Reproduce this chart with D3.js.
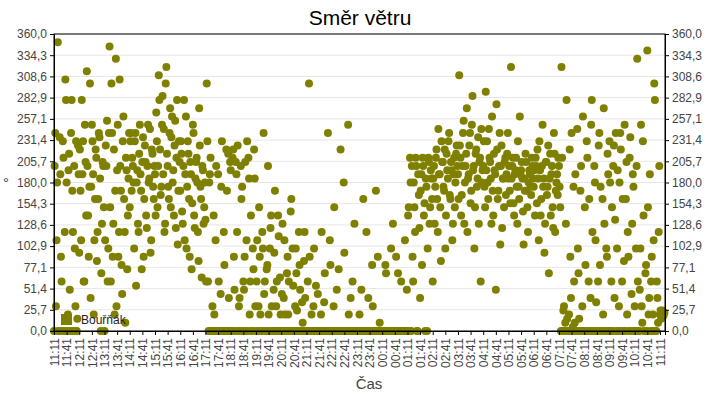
<!DOCTYPE html>
<html><head><meta charset="utf-8">
<script src="https://cdn.jsdelivr.net/npm/d3@7"></script>
<style>body{margin:0;background:#fff}text{font-family:"Liberation Sans",Arial,sans-serif}</style>
</head><body><svg id="c" width="720" height="400"></svg>
<script>
const seriesName = "Bouřňák";
const startTime = new Date(2020,0,1,11,11);
const stepMinutes = 3;
const windDir = [
0,240,110,350,0,190,60,230,0,305,180,20,215,0,280,120,200,30,0,225,
95,170,280,230,60,205,315,140,175,40,250,190,110,220,85,160,235,0,130,200,
0,225,255,100,345,60,240,130,20,330,195,90,305,170,45,260,120,210,75,185,
150,240,210,180,230,55,195,120,250,170,205,90,225,140,200,180,245,110,215,160,
190,265,150,310,220,175,285,245,130,320,200,160,270,235,180,140,255,210,105,230,
170,215,130,280,190,100,230,160,205,75,250,140,185,210,120,270,175,65,195,150,
135,300,60,180,210,0,0,20,110,0,190,0,45,230,0,80,0,170,215,0,
195,0,220,50,205,120,0,40,200,175,60,90,0,230,210,20,140,0,75,185,
0,110,30,90,0,120,240,60,0,80,20,100,140,0,50,170,30,0,115,65,
0,130,40,20,0,90,60,0,160,100,0,30,70,0,120,50,0,10,85,40,
0,60,300,0,20,0,100,0,0,45,0,0,120,0,35,0,0,240,0,80,
0,0,150,0,50,0,0,220,0,0,95,0,0,250,0,40,0,0,130,0,
0,0,20,0,0,160,0,0,0,40,0,0,80,0,0,170,0,0,10,0,
0,0,0,70,0,0,0,100,0,0,0,90,0,0,0,60,0,0,110,0,
0,150,210,0,90,180,120,200,0,165,40,190,210,140,0,175,100,205,150,185,
60,200,175,220,120,190,150,230,205,170,100,215,185,240,160,195,130,210,180,225,
190,310,210,165,240,130,200,270,185,225,155,250,195,100,215,175,235,205,60,180,
200,175,290,230,160,210,185,260,140,195,50,220,170,240,200,125,185,205,165,215,
185,170,320,200,155,190,210,130,175,260,195,185,105,170,205,150,180,190,165,200,
175,140,200,220,110,195,160,250,185,130,205,175,70,215,190,150,240,120,180,165,
200,150,320,0,30,10,280,0,20,90,240,5,60,190,0,100,15,170,0,260,
0,80,230,0,160,40,280,0,200,110,0,60,240,175,0,20,130,0,90,190,
230,0,150,200,40,240,100,0,180,220,60,0,250,160,20,90,210,0,130,175,
30,100,330,0,50,250,10,140,0,80,340,20,190,60,0,110,280,0,40,120,
20,15,25,20
];
const windDirB = [
200,30,180,0,235,90,0,210,120,280,0,195,50,240,170,0,100,230,15,190,
220,110,190,60,250,140,200,90,300,175,230,20,160,210,120,240,185,70,205,150,
110,200,60,240,150,300,90,220,170,30,250,120,200,80,230,160,10,195,140,240,
230,170,200,100,240,180,130,215,190,75,235,160,205,125,250,185,95,220,175,200,
140,230,200,280,165,250,190,120,300,215,175,240,150,260,195,225,125,280,170,205,
230,145,200,110,260,175,215,90,190,155,240,125,205,180,85,225,160,200,130,180,
60,230,0,190,0,30,140,0,200,0,60,0,175,0,120,0,220,0,40,205,
0,210,90,0,190,225,30,0,160,0,50,205,110,0,185,60,0,100,220,30,
60,0,150,20,0,100,45,0,75,200,0,125,30,0,95,0,60,140,0,20,
45,0,110,0,70,20,0,145,0,55,0,100,25,0,80,0,35,0,120,0,
0,0,90,0,0,30,0,55,0,0,0,20,0,0,70,0,0,0,110,0,
0,30,0,0,0,75,0,0,0,180,0,0,0,20,0,0,60,0,0,0,
0,0,0,50,0,0,0,120,0,0,0,0,30,0,0,0,90,0,0,0,
0,0,80,0,0,0,0,0,130,0,0,0,70,0,0,0,0,0,0,50,
140,0,180,200,60,150,210,0,190,125,170,80,200,155,185,0,210,130,195,160,
185,130,210,160,245,190,85,205,175,220,140,195,230,165,205,110,190,150,215,200,
160,225,140,200,255,180,215,120,190,240,170,285,200,150,220,185,130,210,245,195,
230,150,195,180,245,205,130,170,215,190,275,160,200,105,225,185,150,210,190,240,
200,155,185,210,140,195,175,230,160,190,205,145,185,215,170,120,195,175,210,185,
195,210,155,185,230,140,200,175,95,205,165,225,185,140,200,125,215,170,190,210,
175,0,210,25,0,130,15,0,220,40,0,175,10,0,245,70,0,200,30,0,
150,0,210,60,0,250,120,0,180,35,0,225,80,0,160,270,0,100,215,0,
180,60,0,225,135,0,195,30,240,0,160,85,0,205,120,0,235,45,190,0,
0,200,60,0,100,30,230,0,70,0,150,40,0,90,20,300,0,60,10,200,
25,20,18,22
];
const yTicks = [0,25.7,51.4,77.1,102.9,128.6,154.3,180,205.7,231.4,257.1,282.9,308.6,334.3,360];
const tickCount = 49;

const svg = d3.select("#c");
const L=54,R=665,T=34,B=331;
const t0 = startTime, t1 = d3.timeMinute.offset(startTime, 24*60+12);
const x = d3.scaleTime().domain([t0,t1]).range([L,R]);
const y = d3.scaleLinear().domain([0,360]).range([B,T]);
const fmt = v => v.toFixed(1).replace(".",",");

svg.append("g").selectAll("line").data(yTicks).join("line")
 .attr("x1",L).attr("x2",R).attr("y1",d=>y(d)).attr("y2",d=>y(d))
 .attr("stroke","#e6e6e6");

const pts = windDir.map((v,i)=>({t:d3.timeMinute.offset(startTime,i*stepMinutes),v}))
 .concat(windDirB.map((v,i)=>({t:d3.timeSecond.offset(startTime,i*stepMinutes*60+90),v})));
svg.append("g").selectAll("circle").data(pts).join("circle")
 .attr("cx",d=>x(d.t)).attr("cy",d=>y(d.v)).attr("r",4).attr("fill","#808000");

svg.append("rect").attr("x",L).attr("y",T).attr("width",R-L).attr("height",B-T)
 .attr("fill","none").attr("stroke","#000");

const ya = svg.append("g").attr("transform",`translate(${L},0)`)
 .call(d3.axisLeft(y).tickValues(yTicks).tickFormat(fmt).tickSize(4).tickPadding(3));
const yb = svg.append("g").attr("transform",`translate(${R},0)`)
 .call(d3.axisRight(y).tickValues(yTicks).tickFormat(fmt).tickSize(4).tickPadding(3));
const xTickVals = d3.range(tickCount).map(i=>d3.timeMinute.offset(startTime,i*30));
const xa = svg.append("g").attr("transform",`translate(0,${B})`)
 .call(d3.axisBottom(x).tickValues(xTickVals).tickFormat(d3.timeFormat("%H:%M")).tickSize(4));
xa.selectAll("text").attr("transform","rotate(-90)").attr("text-anchor","end")
 .attr("x",-7).attr("y",0).attr("dy","0.35em");
[ya,yb,xa].forEach(g=>{g.select(".domain").attr("stroke","#000");
 g.selectAll("text").attr("font-size",12).attr("fill","#444")
  .attr("font-family","'Liberation Sans',Arial,sans-serif");});

svg.append("text").attr("x",360).attr("y",25).attr("text-anchor","middle")
 .attr("font-size",21).attr("fill","#000").text("Směr větru");
svg.append("text").attr("x",369).attr("y",389).attr("text-anchor","middle")
 .attr("font-size",15).attr("fill","#444").text("Čas");
svg.append("text").attr("x",3).attr("y",188).attr("font-size",15).attr("fill","#444").text("°");

svg.append("rect").attr("x",61).attr("y",314).attr("width",11).attr("height",11).attr("fill","#808000");
svg.append("text").attr("x",81).attr("y",324).attr("font-size",12).attr("fill","#222").text(seriesName);
</script></body></html>
